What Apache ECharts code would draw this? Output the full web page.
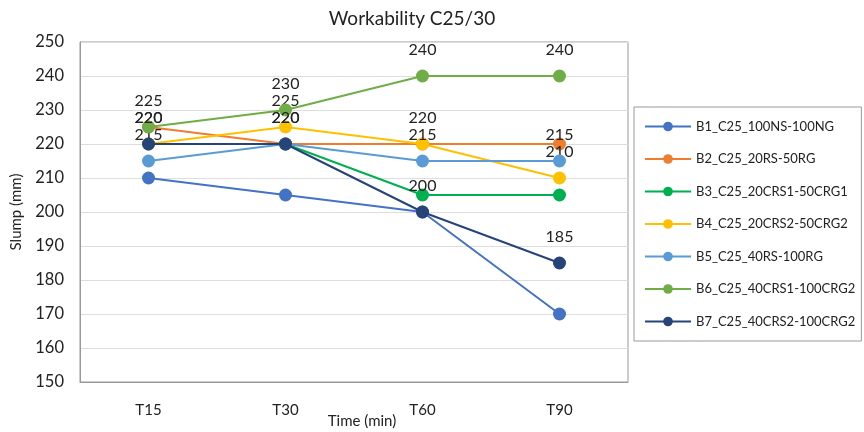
<!DOCTYPE html>
<html><head><meta charset="utf-8">
<script src="https://cdn.jsdelivr.net/npm/echarts@6/dist/echarts.min.js"></script>
<style>html,body{margin:0;padding:0;background:#fff}#c{width:864px;height:432px}</style>
</head><body><div id="c"></div>
<script>
const categories = ['T15', 'T30', 'T60', 'T90'];
const seriesNames = ['B1_C25_100NS-100NG','B2_C25_20RS-50RG','B3_C25_20CRS1-50CRG1','B4_C25_20CRS2-50CRG2','B5_C25_40RS-100RG','B6_C25_40CRS1-100CRG2','B7_C25_40CRS2-100CRG2'];
const b1 = [210, 205, 200, 170];
const b2 = [225, 220, 220, 220];
const b3 = [220, 220, 205, 205];
const b4 = [220, 225, 220, 210];
const b5 = [215, 220, 215, 215];
const b6 = [225, 230, 240, 240];
const b7 = [220, 220, 200, 185];
const values = [b1, b2, b3, b4, b5, b6, b7];
const colors = ['#4472C4','#ED7D31','#00B050','#FFC000','#5B9BD5','#70AD47','#264478'];
const labeled = [false, false, false, true, true, true, true];
const F = 'Lato, "Open Sans", sans-serif';

const chart = echarts.init(document.getElementById('c'));
chart.setOption({
  animation: false,
  title: { text: 'Workability C25/30', left: 407, textAlign: 'center', top: 4,
    textStyle: { fontFamily: F, fontSize: 19, fontWeight: 'normal', color: '#222' } },
  grid: { left: 80, right: 236, top: 42, bottom: 50, show: true, borderColor: '#999', borderWidth: 1, outerBoundsMode: 'none', containLabel: false },
  legend: {
    orient: 'vertical', left: 634, top: 107, width: 228, height: 236,
    padding: [13, 6, 13, 10], itemGap: 19.5, itemWidth: 46, itemHeight: 12,
    borderColor: '#999', borderWidth: 1,
    textStyle: { fontFamily: F, fontSize: 13, color: '#222' },
    data: seriesNames
  },
  xAxis: {
    type: 'category', data: categories, boundaryGap: true,
    name: 'Time (min)', nameLocation: 'middle', nameGap: 32, nameMoveOverlap: false,
    nameTextStyle: { fontFamily: F, fontSize: 15, color: '#222', padding: [0, 0, 0, 16] },
    axisLine: { lineStyle: { color: '#999' } }, axisTick: { show: false },
    axisLabel: { fontFamily: F, fontSize: 15, color: '#222', margin: 21 }
  },
  yAxis: {
    type: 'value', min: 150, max: 250, interval: 10,
    name: 'Slump (mm)', nameLocation: 'middle', nameGap: 56, nameRotate: 90,
    nameTextStyle: { fontFamily: F, fontSize: 15, color: '#222' },
    axisLine: { show: true, lineStyle: { color: '#999' } }, axisTick: { show: false },
    axisLabel: { fontFamily: F, fontSize: 16.5, color: '#222', margin: 16 },
    splitLine: { lineStyle: { color: '#ddd', width: 1 } }
  },
  series: values.map((v, i) => ({
    name: seriesNames[i], type: 'line', data: v,
    symbol: 'circle', symbolSize: 13,
    itemStyle: { color: colors[i] },
    lineStyle: { color: colors[i], width: 2 },
    label: { show: labeled[i], position: 'top', distance: 12, fontFamily: F, fontSize: 16, color: '#222' },
    z: 2 + i
  }))
});
</script></body></html>
